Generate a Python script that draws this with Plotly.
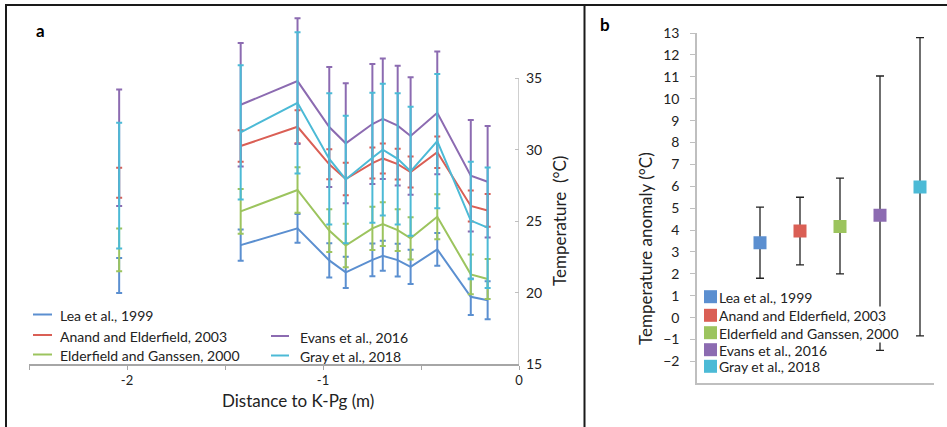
import plotly.graph_objects as go

W, H = 947, 427
def px(x):
    return x / W
def py(y):
    return 1 - y / H

FONT = "Lato"

# ---------------- Panel a data ----------------
dist = [-2.04, -1.42, -1.13, -0.968, -0.884, -0.748, -0.695, -0.619, -0.553, -0.417, -0.246, -0.16]

lea_t = [21.2, 23.33, 24.5, 22.26, 21.42, 22.3, 22.58, 22.28, 21.8, 23.03, 19.71, 19.46]
lea_e = [1.22, 1.1, 1.0, 1.2, 1.1, 1.15, 1.05, 1.15, 1.2, 1.15, 1.28, 1.33]
anand_t = [27.7, 30.27, 31.62, 28.99, 27.96, 29.08, 29.4, 29.0, 28.45, 29.83, 26.07, 25.76]
anand_e = [1.05, 1.1, 1.15, 1.05, 1.14, 1.08, 1.05, 1.08, 1.09, 1.1, 1.09, 1.15]
elder_t = [23.0, 25.69, 27.19, 24.35, 23.3, 24.5, 24.8, 24.38, 23.8, 25.32, 21.28, 20.95]
elder_e = [1.5, 1.57, 1.6, 1.5, 1.52, 1.52, 1.53, 1.47, 1.48, 1.58, 1.4, 1.4]
evans_t = [30.15, 33.16, 34.82, 31.6, 30.46, 31.81, 32.18, 31.7, 30.97, 32.6, 28.19, 27.77]
evans_e = [4.08, 4.32, 4.4, 4.2, 4.2, 4.2, 4.22, 4.2, 4.12, 4.3, 3.9, 3.9]
gray_t = [27.5, 31.23, 33.3, 29.37, 27.93, 29.45, 30.02, 29.37, 28.5, 30.62, 25.05, 24.55]
gray_e = [4.4, 4.7, 4.95, 4.6, 4.47, 4.55, 4.62, 4.59, 4.52, 4.7, 4.12, 4.22]

names = ["Lea et al., 1999", "Anand and Elderfield, 2003", "Elderfield and Ganssen, 2000",
         "Evans et al., 2016", "Gray et al., 2018"]
colors = ["#5B8FD0", "#DA5F55", "#9CC45E", "#8C6BB1", "#4CBAD6"]

temp_ticks = [15, 20, 25, 30, 35]
dist_ticks = [-2.5, -2, -1.5, -1, -0.5, 0]
dist_labels = ["", "-2", "", "-1", "", "0"]

# ---------------- Panel b data ----------------
b_x = [1, 2, 3, 4, 5]
b_val = [3.42, 3.96, 4.16, 4.68, 5.97]
b_high = [5.05, 5.5, 6.37, 11.04, 12.79]
b_low = [1.8, 2.41, 2.0, -1.5, -0.83]
b_ticks = list(range(-2, 14))

fig = go.Figure()

series = [(lea_t, lea_e), (anand_t, anand_e), (elder_t, elder_e), (evans_t, evans_e), (gray_t, gray_e)]
for (vals, errs), name, col in zip(series, names, colors):
    # isolated core point (not connected)
    fig.add_trace(go.Scatter(
        x=dist[:1], y=vals[:1], mode="lines", line=dict(color=col, width=2),
        error_y=dict(type="data", array=errs[:1], color=col, thickness=2, width=3),
        xaxis="x", yaxis="y", showlegend=False, hoverinfo="skip"))
    fig.add_trace(go.Scatter(
        x=dist[1:], y=vals[1:], mode="lines", line=dict(color=col, width=2),
        error_y=dict(type="data", array=errs[1:], color=col, thickness=2, width=3),
        xaxis="x", yaxis="y", name=name, showlegend=False))

for i in range(5):
    fig.add_trace(go.Scatter(
        x=[b_x[i]], y=[b_val[i]], mode="markers",
        marker=dict(symbol="square", size=13, color=colors[i]),
        error_y=dict(type="data", symmetric=False, array=[b_high[i] - b_val[i]],
                     arrayminus=[b_val[i] - b_low[i]], color="#222222", thickness=1.3, width=4),
        xaxis="x2", yaxis="y2", name=names[i], showlegend=False))

shapes = []
annotations = []
# frame
frame = dict(type="line", xref="paper", yref="paper", line=dict(color="#1a1a1a", width=2))
shapes.append(dict(frame, x0=px(5), x1=px(947), y0=py(5), y1=py(5)))
shapes.append(dict(frame, x0=px(6), x1=px(6), y0=py(5), y1=py(427)))
shapes.append(dict(frame, x0=px(584.5), x1=px(584.5), y0=py(5), y1=py(427)))
# panel a right axis line (15..35 only)
shapes.append(dict(type="line", xref="x", yref="y", x0=0, x1=0, y0=15, y1=35,
                   line=dict(color="#BFBFBF", width=1.5)))

def ann(text, x, y, size, angle=0, xanchor="center", color="#222", **kw):
    d = dict(text=text, x=px(x), y=py(y), xref="paper", yref="paper", xanchor=xanchor,
             yanchor="middle", showarrow=False, textangle=angle,
             font=dict(family=FONT, size=size, color=color))
    d.update(kw)
    return d

# panel labels
annotations.append(ann("<b>a</b>", 40, 31, 17, color="#000"))
annotations.append(ann("<b>b</b>", 605, 25, 17, color="#000"))
# axis titles
annotations.append(ann("Distance to K-Pg (m)", 298, 400, 17))
annotations.append(ann("Temperature  (°C)", 559, 221, 17, angle=-90))
annotations.append(ann("Temperature anomaly (°C)", 645, 249, 17, angle=-90))

# panel a legend
leg_a = [(33, 52, 57.5, 314.5), (33, 52, 57.5, 335), (33, 52, 57.5, 354.5),
         (271, 289, 298, 336), (271, 289, 298, 355.5)]
for (x0, x1, tx, yy), name, col in zip(leg_a, names, colors):
    shapes.append(dict(type="line", xref="paper", yref="paper", x0=px(x0), x1=px(x1),
                       y0=py(yy), y1=py(yy), line=dict(color=col, width=2)))
    annotations.append(ann(name, tx, yy + 1, 14, xanchor="left"))

# panel b legend
rows_b = [296.7, 315.3, 332.7, 349.7, 366.3]
for yy, name, col in zip(rows_b, names, colors):
    shapes.append(dict(type="rect", xref="paper", yref="paper", x0=px(704), x1=px(717),
                       y0=py(yy - 6.5), y1=py(yy + 6.5), fillcolor=col, line=dict(width=0)))
    annotations.append(ann(name, 718, yy + 0.5, 14, xanchor="left", bgcolor="white", borderpad=0))

fig.update_layout(
    width=W, height=H,
    margin=dict(l=0, r=0, t=0, b=0, autoexpand=False),
    paper_bgcolor="white", plot_bgcolor="white",
    font=dict(family=FONT, color="#222"),
    shapes=shapes, annotations=annotations,
    xaxis=dict(domain=[px(29), px(519)], range=[-2.5, 0], anchor="y", automargin=False,
               tickvals=dist_ticks, ticktext=dist_labels, ticks="outside", ticklen=4,
               tickcolor="#A6A6A6", showline=True, linecolor="#A6A6A6", linewidth=1.5,
               showgrid=False, zeroline=False, tickfont=dict(size=13, color="#222")),
    yaxis=dict(domain=[py(364), py(7.15)], range=[15, 40], anchor="x", side="right", automargin=False,
               tickvals=temp_ticks, ticks="inside", ticklen=4, tickcolor="#BFBFBF",
               showline=False, showgrid=False, zeroline=False, ticklabelstandoff=6,
               tickfont=dict(size=14, color="#222")),
    xaxis2=dict(domain=[px(697), px(934)], range=[-0.575, 5.35], anchor="y2", automargin=False,
                showticklabels=False, ticks="", showline=True, linecolor="#BFBFBF", linewidth=1.5,
                showgrid=False, zeroline=False),
    yaxis2=dict(domain=[py(383.3), py(33.1)], range=[-3, 13], anchor="x2", automargin=False,
                tickvals=b_ticks, ticks="outside", ticklen=5, tickcolor="#BFBFBF",
                showline=True, linecolor="#BFBFBF", linewidth=1.5, ticklabelstandoff=8,
                showgrid=False, zeroline=False, tickfont=dict(size=14, color="#222")),
)

fig.write_html("out.html")
